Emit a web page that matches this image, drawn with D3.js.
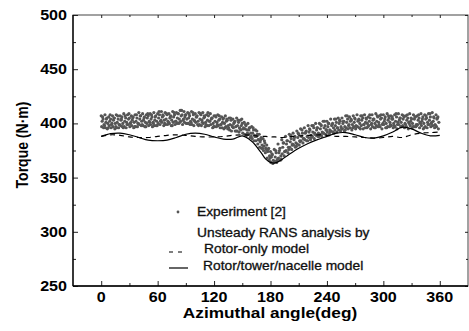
<!DOCTYPE html>
<html>
<head>
<meta charset="utf-8">
<script src="https://cdn.jsdelivr.net/npm/d3@7"></script>
<style>
  body { margin: 0; background: #fff; }
  svg text { font-family: "Liberation Sans", Arial, sans-serif; }
</style>
</head>
<body>
<svg id="chart"></svg>
<script>
// torque vs azimuth - experiment scatter + two RANS lines
var width = 469;
var height = 331;

// ---- data ----
var xTicks = [0, 60, 120, 180, 240, 300, 360];
var xMinor = [30, 90, 150, 210, 270, 330];
var yTicks = [250, 300, 350, 400, 450, 500];
var yMinor = [275, 325, 375, 425, 475];

var lineAngle = [0, 10, 20, 30, 40, 50, 60, 70, 80, 90, 100, 110, 120, 130, 140, 150, 160, 170, 175, 180, 185, 190,
  200, 210, 220, 230, 240, 250, 260, 270, 280, 290, 300, 310, 320, 330, 340, 350, 360];
var rotorTowerNacelle = [388, 390.5, 391, 389.5, 387, 384.5, 384, 384.5, 387, 390, 391, 390, 387.5, 385.5, 385.5, 388.5, 383.5, 373, 367, 364, 363.5, 365.5,
  371.5, 377, 381.5, 385, 388, 391, 391.5, 389.5, 387, 386.5, 388.5, 392, 396.5, 395, 391, 388.5, 389];
var rotorOnly = [388, 389.5, 389, 387.5, 387, 387, 388, 389, 389.5, 389, 388, 387.5, 387.5, 388, 389, 389.5, 389, 388, 388, 387.5, 387.5, 387,
  387.5, 388.5, 389, 389.5, 389, 388, 388, 387.5, 387, 386.5, 387, 388, 387, 389.5, 391, 391.5, 392];

// experiment: sampled every 4 deg, several revolutions each shifted a little in angle
var expAngle = d3.range(0, 361, 4);
var expShift = [0, 2.0, 1.0, 3.0, 0.5, 2.5, 1.5, 3.5];
var expRev1 = [407,408,406,407,408,407,409,408,407,408,410,409,408,409,410,409,411,410,409,411,410,412,411,410,411,409,410,410,408,409,407,408,406,407,405,404,405,403,401,400,397,394,390,386,380,374,376,381,385,388,390,391,393,395,396,398,398,400,400,402,402,404,404,405,405,407,406,407,408,407,408,406,408,409,407,408,409,407,408,409,408,407,409,408,407,409,408,409,410,408,407];
var expRev2 = [404,405,404,405,404,406,405,405,406,405,407,406,407,406,407,408,407,408,407,408,409,408,408,407,408,407,408,406,407,405,406,404,405,403,403,402,401,400,398,396,394,390,387,382,377,371,373,377,382,384,386,388,390,391,393,394,396,396,398,398,400,400,401,402,402,404,403,404,404,405,404,405,404,406,405,406,405,404,406,405,406,405,404,406,405,406,405,406,405,406,405];
var expRev3 = [402,401,402,403,401,403,402,404,403,402,404,403,405,404,403,405,406,404,405,406,405,407,406,405,404,406,404,405,403,404,402,403,401,402,399,400,398,398,395,394,391,388,383,379,374,369,369,373,378,381,383,385,387,388,391,392,392,394,395,396,397,398,398,400,400,401,402,401,402,403,401,402,403,402,404,402,403,404,402,403,404,403,402,404,403,402,404,403,402,404,403];
var expRev4 = [399,400,399,400,399,400,401,400,401,400,402,401,402,401,402,402,403,402,403,402,404,403,404,402,403,402,403,401,402,400,401,399,400,398,398,397,396,395,394,391,389,385,380,377,370,366,366,370,374,378,380,382,384,386,388,389,391,391,392,394,394,396,396,397,397,398,399,398,400,399,400,399,400,401,399,400,401,400,399,401,400,401,400,399,401,400,401,400,399,401,400];
var expRev5 = [397,396,398,397,396,398,397,399,398,397,399,398,400,399,398,400,401,399,400,401,400,402,401,400,399,401,399,400,398,399,397,398,396,397,394,396,393,394,390,390,386,384,378,375,368,364,365,368,372,375,378,380,381,384,385,387,388,389,390,391,392,393,394,394,395,396,396,397,397,398,396,398,397,398,397,399,397,398,397,399,398,397,398,397,399,398,397,399,398,397,398];
var expRev6 = [396,395,396,395,396,397,396,397,396,397,398,397,398,397,398,399,398,399,398,399,400,399,400,399,398,399,398,397,398,396,397,396,395,395,393,393,392,391,389,387,384,381,377,373,366,363,364,366,370,373,376,378,380,382,384,385,386,388,388,390,390,392,392,393,393,395,394,395,396,395,396,395,396,397,395,396,397,396,395,397,396,395,396,397,396,395,396,397,396,395,396];
var expRev7 = [406,404,408,405,407,404,407,409,405,408,407,405,409,408,406,411,408,409,406,410,409,412,408,409,410,406,409,407,410,405,407,407,404,404,405,401,403,404,399,396,396,393,385,384,376,372,375,375,382,384,389,387,391,394,392,395,398,396,399,402,400,399,404,403,402,407,404,405,403,407,405,408,404,407,408,404,407,406,409,405,407,408,405,406,408,404,407,409,406,405,407];
var expRev8 = [398,396,400,397,399,396,399,401,397,400,399,397,401,400,398,403,400,401,398,402,401,404,400,401,402,398,401,399,402,397,399,399,396,396,397,393,395,396,391,388,388,385,377,376,368,364,367,367,374,376,381,379,383,386,384,387,390,388,391,394,392,391,396,395,394,399,396,397,395,399,397,400,396,399,400,396,399,398,401,397,399,400,397,398,400,396,399,401,398,397,399];
var expRevs = [expRev1, expRev2, expRev3, expRev4, expRev5, expRev6, expRev7, expRev8];

// legend labels
var legendLabels = ["Experiment [2]", "Unsteady RANS analysis by", "Rotor-only model", "Rotor/tower/nacelle model"];

// ---- scales ----
var x = d3.scaleLinear().domain([-30, 390]).range([73, 468]);
var y = d3.scaleLinear().domain([250, 500]).range([286, 15]);

var sx = 1.15; // text in the picture is a bit wider than the font

var svg = d3.select("svg#chart")
    .attr("width", width)
    .attr("height", height);

// frame
svg.append("rect")
    .attr("x", x(-30)).attr("y", y(500))
    .attr("width", x(390) - x(-30)).attr("height", y(250) - y(500))
    .attr("fill", "none").attr("stroke", "#444").attr("stroke-width", 1);

// axes with inward ticks
function tickAxis(axis, vals, len, tr) {
    var g = svg.append("g").attr("transform", tr)
        .call(axis.tickValues(vals).tickSize(len).tickFormat(""));
    g.select(".domain").remove();
    g.selectAll("line").attr("stroke", "#222");
    return g;
}
tickAxis(d3.axisTop(x), xTicks, 5, "translate(0," + y(250) + ")");
tickAxis(d3.axisTop(x), xMinor, 3, "translate(0," + y(250) + ")");
tickAxis(d3.axisBottom(x), xTicks, 3, "translate(0," + y(500) + ")");
tickAxis(d3.axisBottom(x), xMinor, 2, "translate(0," + y(500) + ")");
tickAxis(d3.axisRight(y), yTicks, 5, "translate(" + x(-30) + ",0)");
tickAxis(d3.axisRight(y), yMinor, 3, "translate(" + x(-30) + ",0)");
tickAxis(d3.axisLeft(y), yTicks, 3, "translate(" + x(390) + ",0)");
tickAxis(d3.axisLeft(y), yMinor, 2, "translate(" + x(390) + ",0)");

// left + bottom axis lines, darker
svg.append("line").attr("x1", x(-30)).attr("x2", x(-30)).attr("y1", y(500)).attr("y2", y(250))
    .attr("stroke", "#000").attr("stroke-width", 1.3);
svg.append("line").attr("x1", x(-30)).attr("x2", x(390)).attr("y1", y(250)).attr("y2", y(250))
    .attr("stroke", "#000").attr("stroke-width", 1.3);

// tick labels
svg.append("g").selectAll("text").data(xTicks).enter().append("text")
    .attr("transform", function(d) { return "translate(" + x(d) + "," + (y(250) + 16) + ") scale(" + sx + ",1)"; })
    .attr("text-anchor", "middle")
    .attr("font-size", 14).attr("font-weight", "bold")
    .text(function(d) { return d; });

svg.append("g").selectAll("text").data(yTicks).enter().append("text")
    .attr("transform", function(d) { return "translate(" + (x(-30) - 6) + "," + (y(d) + 5) + ") scale(" + sx + ",1)"; })
    .attr("text-anchor", "end")
    .attr("font-size", 14).attr("font-weight", "bold")
    .text(function(d) { return d; });

// axis titles
svg.append("text")
    .attr("transform", "translate(270,318) scale(" + sx + ",1)")
    .attr("text-anchor", "middle")
    .attr("font-size", 15).attr("font-weight", "bold")
    .text("Azimuthal angle(deg)");

svg.append("text")
    .attr("transform", "translate(28,145) scale(" + sx + ",1) rotate(-90)")
    .attr("text-anchor", "middle")
    .attr("font-size", 14).attr("font-weight", "bold")
    .text("Torque (N\u00b7m)");

// experiment points
var points = [];
expRevs.forEach(function(rev, k) {
    rev.forEach(function(v, i) {
        var a = expAngle[i] + expShift[k];
        if (a <= 359) points.push({ a: a, v: v });
    });
});

svg.append("g").selectAll("circle.point")
    .data(points)
    .enter()
    .append("circle")
    .attr("class", "point")
    .attr("cx", function(d) { return x(d.a); })
    .attr("cy", function(d) { return y(d.v); })
    .attr("r", 1.6)
    .attr("fill", "#555");

// lines
var line = d3.line()
    .curve(d3.curveCatmullRom)
    .x(function(d, i) { return x(lineAngle[i]); })
    .y(function(d) { return y(d); });

svg.append("path").datum(rotorOnly)
    .attr("d", line)
    .attr("fill", "none").attr("stroke", "#000").attr("stroke-width", 1.2)
    .attr("stroke-dasharray", "5,4");

svg.append("path").datum(rotorTowerNacelle)
    .attr("d", line)
    .attr("fill", "none").attr("stroke", "#000").attr("stroke-width", 1.2);

// legend
var lg = svg.append("g");
lg.append("circle").attr("cx", 178).attr("cy", 212).attr("r", 1.4).attr("fill", "#555");
lg.append("line").attr("x1", 169).attr("x2", 185).attr("y1", 252).attr("y2", 252)
    .attr("stroke", "#000").attr("stroke-width", 1.2).attr("stroke-dasharray", "4,5");
lg.append("line").attr("x1", 169).attr("x2", 188).attr("y1", 268).attr("y2", 268)
    .attr("stroke", "#000").attr("stroke-width", 1.2);

var legendPos = [[197, 216], [197, 237], [204, 253], [203, 270]];
lg.selectAll("text").data(legendLabels).enter().append("text")
    .attr("transform", function(d, i) { return "translate(" + legendPos[i][0] + "," + legendPos[i][1] + ") scale(" + sx + ",1)"; })
    .attr("font-size", 12)
    .attr("fill", "#111")
    .attr("stroke", "#111").attr("stroke-width", 0.3)
    .text(function(d) { return d; });
</script>
</body>
</html>
